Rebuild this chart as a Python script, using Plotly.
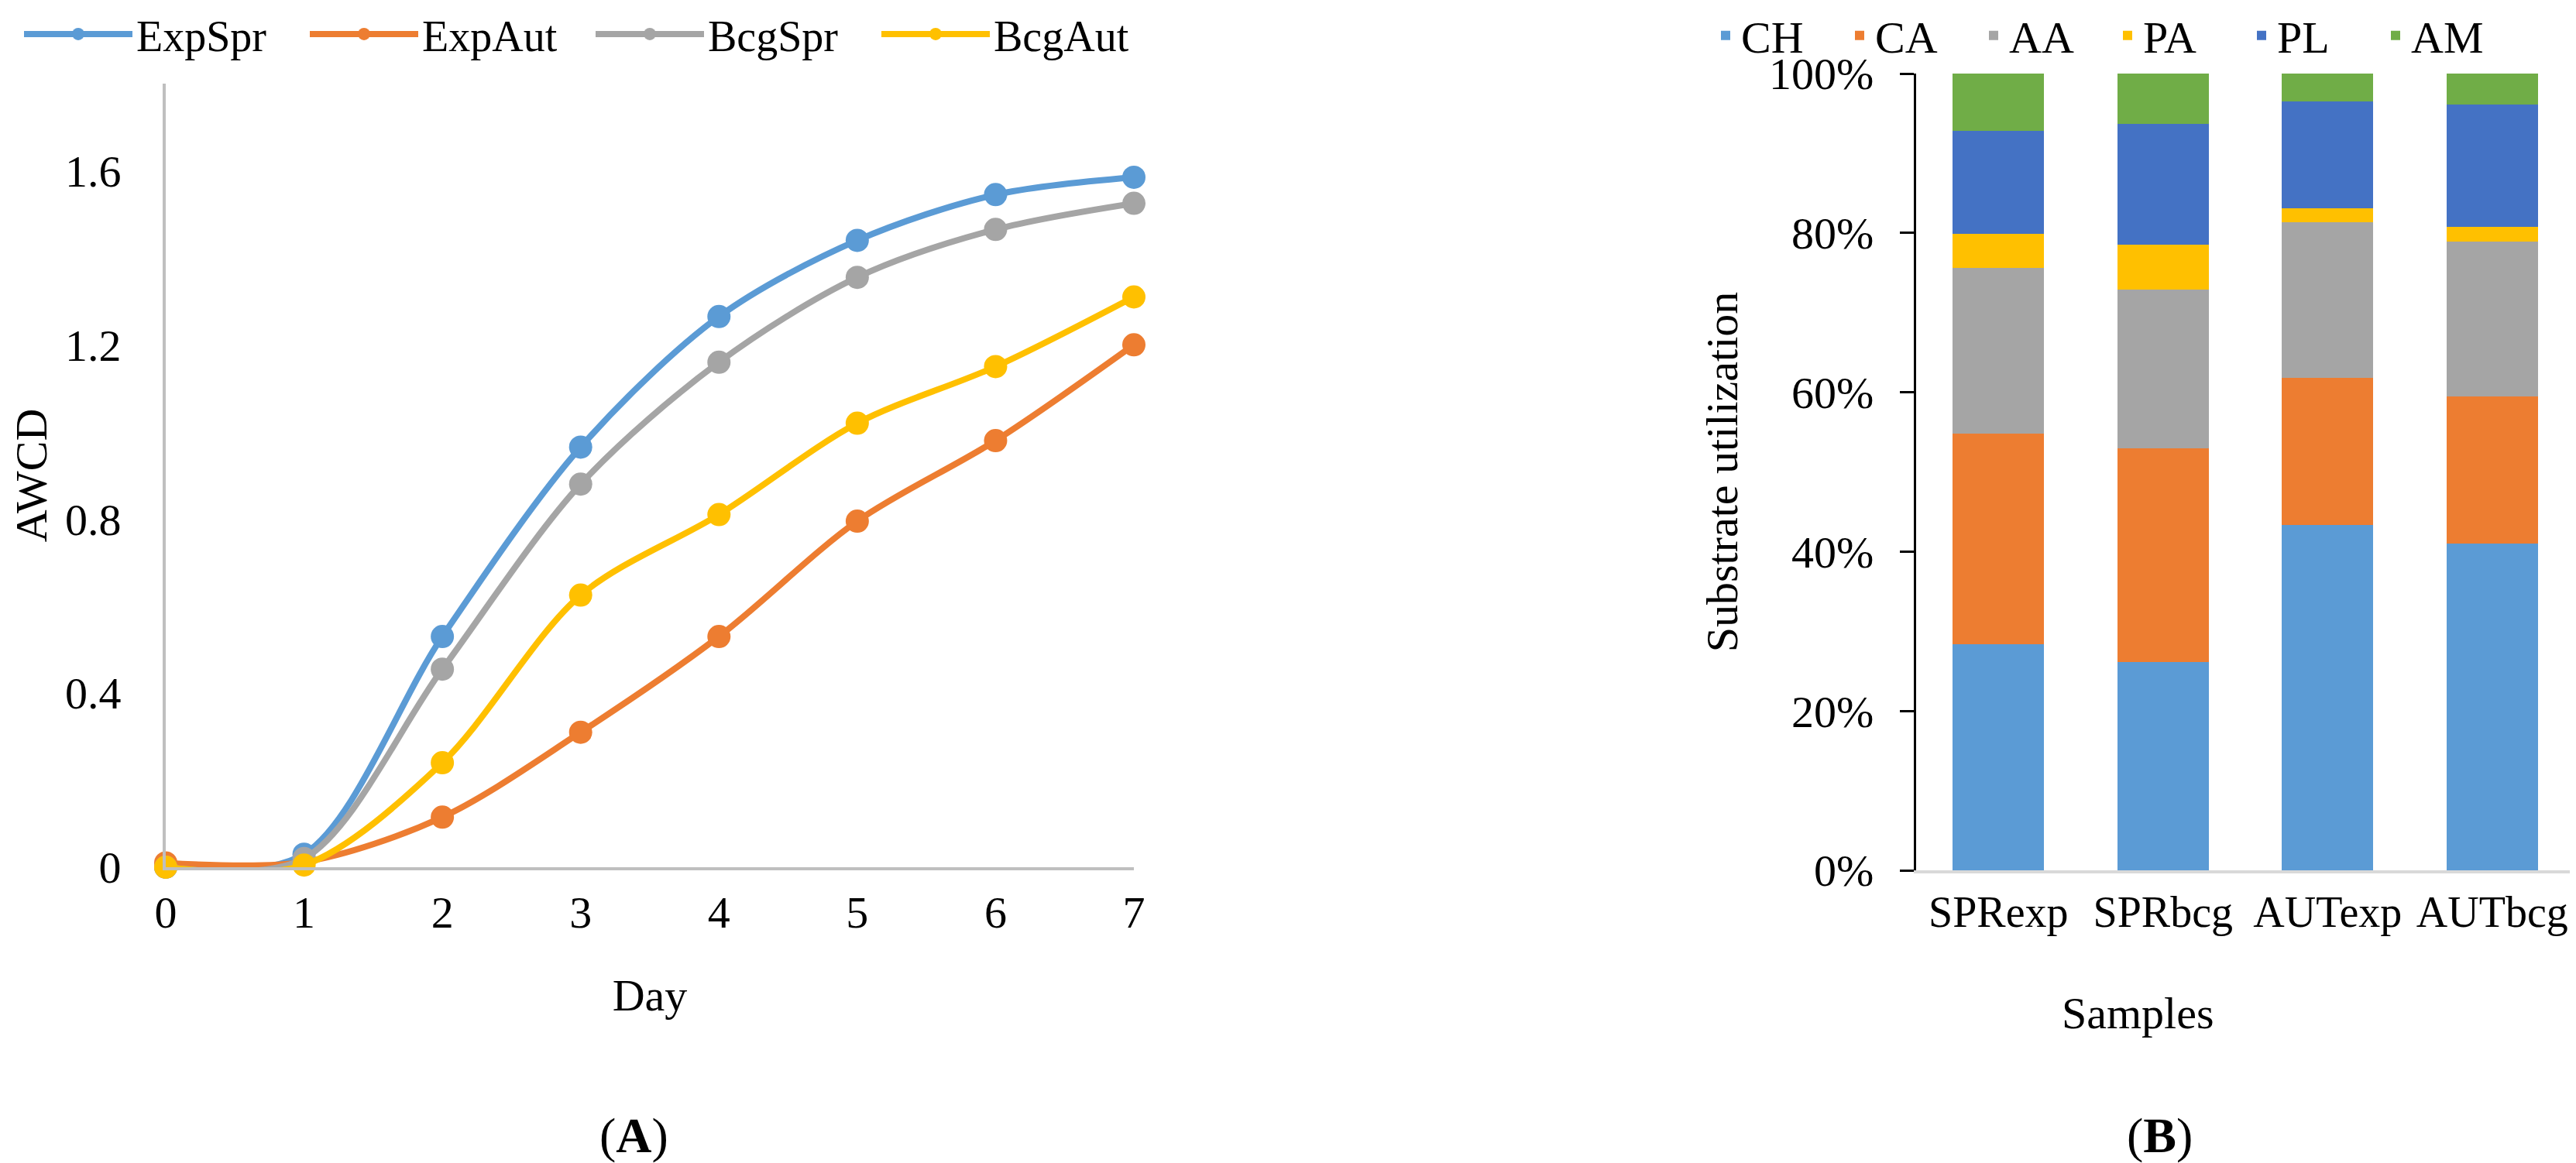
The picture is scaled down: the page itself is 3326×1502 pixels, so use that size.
import plotly.graph_objects as go

# ---------------- Data: panel A (AWCD over days) ----------------
days = [0, 1, 2, 3, 4, 5, 6, 7]
exp_spr = [0.0, 0.03, 0.53, 0.965, 1.265, 1.44, 1.545, 1.585]
exp_aut = [0.01, 0.012, 0.115, 0.31, 0.53, 0.795, 0.98, 1.2]
bcg_spr = [0.0, 0.02, 0.455, 0.88, 1.16, 1.355, 1.465, 1.525]
bcg_aut = [0.0, 0.005, 0.24, 0.625, 0.81, 1.02, 1.15, 1.31]
line_names = ["ExpSpr", "ExpAut", "BcgSpr", "BcgAut"]
line_values = [exp_spr, exp_aut, bcg_spr, bcg_aut]
line_colors = ["#5B9BD5", "#ED7D31", "#A5A5A5", "#FFC000"]
awcd_ticks = [0, 0.4, 0.8, 1.2, 1.6]
awcd_ticktext = ["0", "0.4", "0.8", "1.2", "1.6"]

# ---------------- Data: panel B (substrate utilization, %) ----------------
samples = ["SPRexp", "SPRbcg", "AUTexp", "AUTbcg"]
ch = [28.4, 26.1, 43.3, 41.0]
ca = [26.4, 26.9, 18.5, 18.5]
aa = [20.8, 19.9, 19.5, 19.4]
pa = [4.3, 5.6, 1.8, 1.9]
pl = [12.9, 15.2, 13.4, 15.3]
am = [7.2, 6.3, 3.5, 3.9]
bar_names = ["CH", "CA", "AA", "PA", "PL", "AM"]
bar_values = [ch, ca, aa, pa, pl, am]
bar_colors = ["#5B9BD5", "#ED7D31", "#A5A5A5", "#FFC000", "#4472C4", "#70AD47"]
pct_ticks = [0, 20, 40, 60, 80, 100]
pct_ticktext = ["0%", "20%", "40%", "60%", "80%", "100%"]

W, H = 3326, 1502
FONT = "Liberation Serif, Times New Roman, serif"
FS = 58

fig = go.Figure()

for name, vals, col in zip(line_names, line_values, line_colors):
    fig.add_trace(go.Scatter(
        x=days, y=vals, name=name, mode="lines+markers",
        line=dict(color=col, width=8, shape="spline", smoothing=0.9),
        marker=dict(color=col, size=30),
        xaxis="x", yaxis="y", legend="legend", cliponaxis=False,
    ))

for name, vals, col in zip(bar_names, bar_values, bar_colors):
    fig.add_trace(go.Bar(
        x=samples, y=vals, name=name, marker=dict(color=col, line=dict(width=0)),
        xaxis="x2", yaxis="y2", legend="legend2",
    ))

def px_x(p):
    return p / W

def px_y(p):
    return 1 - p / H

fig.update_layout(
    width=W, height=H,
    margin=dict(l=0, r=0, t=0, b=0, autoexpand=False),
    paper_bgcolor="white", plot_bgcolor="white",
    font=dict(family=FONT, size=FS, color="black"),
    barmode="stack", bargap=0.444,
    showlegend=True,
    xaxis=dict(
        domain=[px_x(206), px_x(1456)], range=[0, 7], dtick=1,
        showline=True, linecolor="#BFBFBF", linewidth=4,
        showgrid=False, zeroline=False, ticks="",
        ticklabelstandoff=4,
        title=dict(text="Day", standoff=56, font=dict(size=FS)),
        anchor="y",
    ),
    yaxis=dict(
        domain=[px_y(1112), px_y(100)], range=[0, 1.8],
        tickvals=awcd_ticks, ticktext=awcd_ticktext,
        showline=True, linecolor="#BFBFBF", linewidth=4,
        showgrid=False, zeroline=False, ticks="",
        ticklabelstandoff=42,
        title=dict(text="AWCD", standoff=18, font=dict(size=FS)),
        anchor="x",
    ),
    xaxis2=dict(
        domain=[px_x(2466), 0.997], range=[-0.5, 3.5],
        showline=True, linecolor="#D9D9D9", linewidth=4,
        showgrid=False, zeroline=False, ticks="",
        ticklabelstandoff=2, tickfont=dict(size=56),
        anchor="y2",
    ),
    yaxis2=dict(
        domain=[px_y(1116), px_y(87)], range=[0, 100],
        tickvals=pct_ticks, ticktext=pct_ticktext,
        showline=True, linecolor="black", linewidth=3,
        ticks="outside", ticklen=18, tickwidth=3, tickcolor="black",
        ticklabelstandoff=22,
        showgrid=False, zeroline=False,
        title=dict(text="Substrate utilization", standoff=22, font=dict(size=FS)),
        anchor="x2",
    ),
    legend=dict(
        orientation="h", x=px_x(18), xanchor="left", y=px_y(36), yanchor="middle",
        font=dict(size=56), itemwidth=140, entrywidth=214, entrywidthmode="pixels",
        bgcolor="rgba(0,0,0,0)", traceorder="normal", itemsizing="trace",
    ),
    legend2=dict(
        orientation="h", x=px_x(2200), xanchor="left", y=px_y(38), yanchor="middle",
        font=dict(size=FS), entrywidth=128, entrywidthmode="pixels",
        bgcolor="rgba(0,0,0,0)", traceorder="normal",
    ),
    annotations=[
        dict(text="Samples", x=px_x(2752), y=px_y(1300), xref="paper", yref="paper",
             showarrow=False, font=dict(size=FS), xanchor="center", yanchor="middle"),
        dict(text="(<b>A</b>)", x=px_x(810), y=px_y(1458), xref="paper", yref="paper",
             showarrow=False, font=dict(size=64), xanchor="center", yanchor="middle"),
        dict(text="(<b>B</b>)", x=px_x(2780), y=px_y(1458), xref="paper", yref="paper",
             showarrow=False, font=dict(size=64), xanchor="center", yanchor="middle"),
    ],
)

fig.write_html("out.html")
